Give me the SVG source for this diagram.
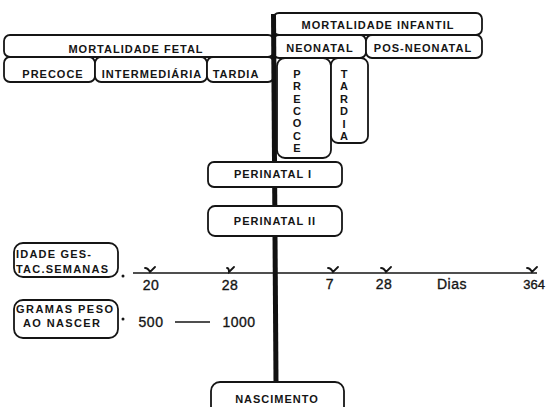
<svg xmlns="http://www.w3.org/2000/svg" width="547" height="407" viewBox="0 0 547 407">
<style>
.box{fill:#fff;stroke:#151515;stroke-width:1.8}
.t{font-family:"Liberation Sans",Arial,sans-serif;font-weight:bold;font-size:11px;fill:#151515;text-anchor:middle;letter-spacing:1px}
.n{font-family:"Liberation Sans",Arial,sans-serif;font-size:14px;fill:#151515;stroke:#151515;stroke-width:0.35;text-anchor:middle;letter-spacing:0.5px}
.v{font-family:"Liberation Sans",Arial,sans-serif;font-weight:bold;font-size:11px;fill:#151515;text-anchor:middle}
.tick{fill:none;stroke:#151515;stroke-width:1.8;stroke-linecap:round}
</style>
<rect width="547" height="407" fill="#fff"/>
<g id="mortalidade-fetal">
<rect class="box" x="4" y="35" width="270" height="22" rx="6"/>
<text class="t" x="136" y="53">MORTALIDADE FETAL</text>
</g>
<g id="fetal-precoce">
<rect class="box" x="4" y="57" width="91" height="25" rx="6"/>
<text class="t" x="53" y="78">PRECOCE</text>
</g>
<g id="fetal-intermediaria">
<rect class="box" x="95" y="57" width="112" height="25" rx="6"/>
<text class="t" x="152" y="78">INTERMEDIÁRIA</text>
</g>
<g id="fetal-tardia">
<rect class="box" x="207" y="57" width="67" height="25" rx="6"/>
<text class="t" x="236" y="78">TARDIA</text>
</g>
<g id="mortalidade-infantil">
<rect class="box" x="273" y="13" width="209" height="22" rx="6"/>
<text class="t" x="378" y="29">MORTALIDADE INFANTIL</text>
</g>
<g id="neonatal">
<rect class="box" x="273" y="35" width="93" height="23" rx="6"/>
<text class="t" x="320" y="52">NEONATAL</text>
</g>
<g id="pos-neonatal">
<rect class="box" x="366" y="35" width="116" height="23" rx="6"/>
<text class="t" x="423" y="52">POS-NEONATAL</text>
</g>
<g id="neonatal-precoce">
<rect class="box" x="277" y="58" width="54" height="100" rx="8"/>
<text class="v" x="297" y="78">P</text>
<text class="v" x="297" y="90.3">R</text>
<text class="v" x="297" y="102.6">E</text>
<text class="v" x="297" y="114.9">C</text>
<text class="v" x="297" y="127.2">O</text>
<text class="v" x="297" y="139.5">C</text>
<text class="v" x="297" y="151.8">E</text>
</g>
<g id="neonatal-tardia">
<rect class="box" x="331" y="58" width="37" height="85" rx="7"/>
<text class="v" x="344" y="78">T</text>
<text class="v" x="344" y="90.4">A</text>
<text class="v" x="344" y="102.8">R</text>
<text class="v" x="344" y="115.2">D</text>
<text class="v" x="344" y="127.6">I</text>
<text class="v" x="344" y="140">A</text>
</g>
<g id="connectors">
<line x1="273.5" y1="14" x2="276" y2="382" stroke="#111" stroke-width="5"/>
<line x1="133" y1="273" x2="537" y2="273" stroke="#151515" stroke-width="1.6"/>
<line x1="175" y1="322" x2="210" y2="322" stroke="#151515" stroke-width="1.5"/>
<circle cx="123" cy="276" r="1.5" fill="#151515"/>
<circle cx="123" cy="319" r="1.5" fill="#151515"/>
<path class="tick" d="M145,268 Q148,268 150,272 L155,267 M227,268 Q229,268 229,272 L234,267 M328,268 Q331,268 333,272 L338,267 M381,268 Q384,268 386,272 L391,267 M527,268 Q530,268 532,272 L537,267"/>
</g>
<g id="perinatal-1">
<rect class="box" x="208" y="162" width="134" height="25" rx="6"/>
<text class="t" x="273" y="178">PERINATAL I</text>
</g>
<g id="perinatal-2">
<rect class="box" x="208" y="206" width="134" height="30" rx="7"/>
<text class="t" x="275" y="225">PERINATAL II</text>
</g>
<g id="idade-gestacional">
<rect class="box" x="14" y="243" width="104" height="34" rx="9"/>
<text class="t" x="16" y="258" style="text-anchor:start;letter-spacing:0" textLength="75">IDADE  GES-</text>
<text class="t" x="16" y="273" style="text-anchor:start;letter-spacing:0" textLength="92">TAC.SEMANAS</text>
</g>
<g id="gramas-peso">
<rect class="box" x="14" y="300" width="104" height="38" rx="9"/>
<text class="t" x="16" y="313" style="text-anchor:start;letter-spacing:0" textLength="97">GRAMAS PESO</text>
<text class="t" x="23" y="327" style="text-anchor:start;letter-spacing:0" textLength="77">AO NASCER</text>
</g>
<g id="nascimento">
<rect class="box" x="211" y="382" width="133" height="40" rx="9"/>
<text class="t" x="277" y="403">NASCIMENTO</text>
</g>
<g id="labels">
<text class="n" x="151" y="290">20</text>
<text class="n" x="230" y="290">28</text>
<text class="n" x="330" y="289">7</text>
<text class="n" x="384" y="289">28</text>
<text class="n" x="452" y="289">Dias</text>
<text class="n" x="545" y="289" style="text-anchor:end;letter-spacing:0;font-size:13px">364</text>
<text class="n" x="151" y="327">500</text>
<text class="n" x="239" y="327">1000</text>
</g>
</svg>
